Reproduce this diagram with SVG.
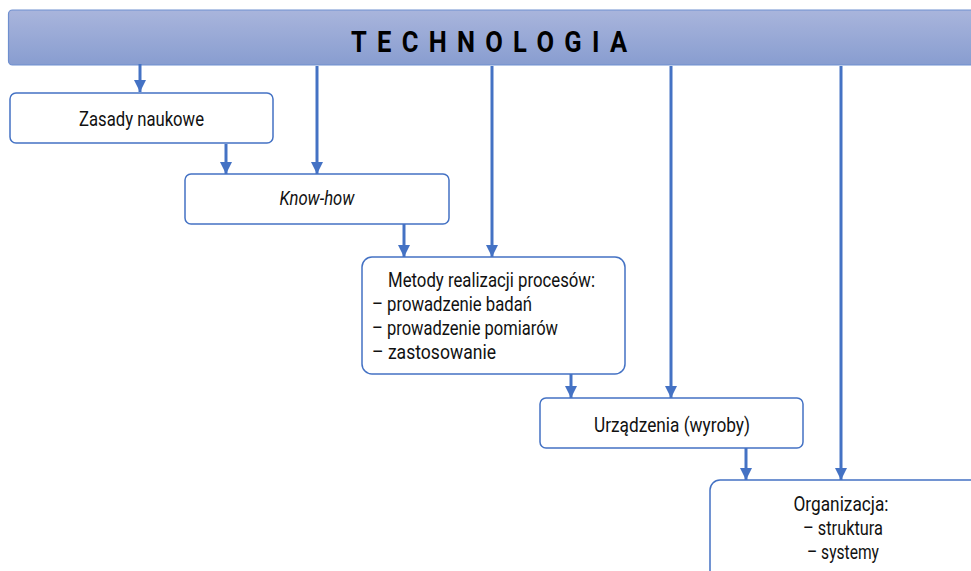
<svg xmlns="http://www.w3.org/2000/svg" width="971" height="571" viewBox="0 0 971 571">
  <defs>
    <linearGradient id="barFill" x1="0" y1="0" x2="0" y2="1">
      <stop offset="0" stop-color="#a9b5dc"/>
      <stop offset="1" stop-color="#889dd0"/>
    </linearGradient>
    <marker id="arrowHead" viewBox="0 0 10 10" refX="10" refY="5" markerWidth="4" markerHeight="4" orient="auto" markerUnits="strokeWidth">
      <path d="M0,0 L10,5 L0,10 z" fill="#4472c4"/>
    </marker>
  </defs>
  <style>
    .box { fill: #ffffff; stroke: #4472c4; stroke-width: 1.5; }
    .lbl { font-family: Roboto, "Liberation Sans", sans-serif; font-size: 20px; fill: #111111; }
    .mid { text-anchor: middle; }
    .conn { stroke: #4472c4; stroke-width: 3; fill: none; marker-end: url(#arrowHead); }
  </style>
  <rect width="971" height="571" fill="#ffffff"/>

  <g id="technologia">
    <rect x="8.5" y="10" width="975" height="55" rx="4" fill="url(#barFill)" stroke="#6f8fcf" stroke-width="1.2"/>
    <text transform="translate(489,52) scale(0.85,1)" x="0" y="0" text-anchor="middle" font-family="Roboto, 'Liberation Sans', sans-serif" font-size="30" font-weight="bold" fill="#000000" textLength="325" lengthAdjust="spacing">TECHNOLOGIA</text>
  </g>

  <g id="connectors">
    <line class="conn" x1="140" y1="64" x2="140" y2="92"/>
    <line class="conn" x1="317" y1="66" x2="317" y2="174"/>
    <line class="conn" x1="226" y1="144" x2="226" y2="174"/>
    <line class="conn" x1="404" y1="224" x2="404" y2="257"/>
    <line class="conn" x1="492" y1="66" x2="492" y2="257"/>
    <line class="conn" x1="571" y1="374" x2="571" y2="398"/>
    <line class="conn" x1="671" y1="66" x2="671" y2="398"/>
    <line class="conn" x1="746" y1="448" x2="746" y2="480"/>
    <line class="conn" x1="841" y1="66" x2="841" y2="480"/>
  </g>

  <g id="zasady">
    <rect class="box" x="10" y="93" width="263" height="50" rx="6"/>
    <text class="lbl mid" x="141.5" y="126" textLength="125" lengthAdjust="spacingAndGlyphs">Zasady naukowe</text>
  </g>

  <g id="knowhow">
    <rect class="box" x="185" y="174" width="264" height="50" rx="6"/>
    <text class="lbl mid" x="317" y="205" font-style="italic" textLength="75" lengthAdjust="spacingAndGlyphs">Know-how</text>
  </g>

  <g id="metody">
    <rect class="box" x="362" y="257" width="263" height="117" rx="10"/>
    <text class="lbl mid" x="491.5" y="287" textLength="207" lengthAdjust="spacingAndGlyphs">Metody realizacji procesów:</text>
    <text class="lbl" x="372" y="311" textLength="160" lengthAdjust="spacingAndGlyphs">– prowadzenie badań</text>
    <text class="lbl" x="372" y="335" textLength="186" lengthAdjust="spacingAndGlyphs">– prowadzenie pomiarów</text>
    <text class="lbl" x="372" y="359" textLength="124" lengthAdjust="spacingAndGlyphs">– zastosowanie</text>
  </g>

  <g id="urzadzenia">
    <rect class="box" x="540" y="398" width="263" height="50" rx="6"/>
    <text class="lbl mid" x="672" y="432" textLength="156" lengthAdjust="spacingAndGlyphs">Urządzenia (wyroby)</text>
  </g>

  <g id="organizacja">
    <rect class="box" x="710" y="480" width="280" height="110" rx="10"/>
    <text class="lbl mid" x="841" y="511" textLength="95" lengthAdjust="spacingAndGlyphs">Organizacja:</text>
    <text class="lbl mid" x="843" y="535" textLength="80" lengthAdjust="spacingAndGlyphs">– struktura</text>
    <text class="lbl mid" x="843" y="559" textLength="72" lengthAdjust="spacingAndGlyphs">– systemy</text>
  </g>
</svg>
